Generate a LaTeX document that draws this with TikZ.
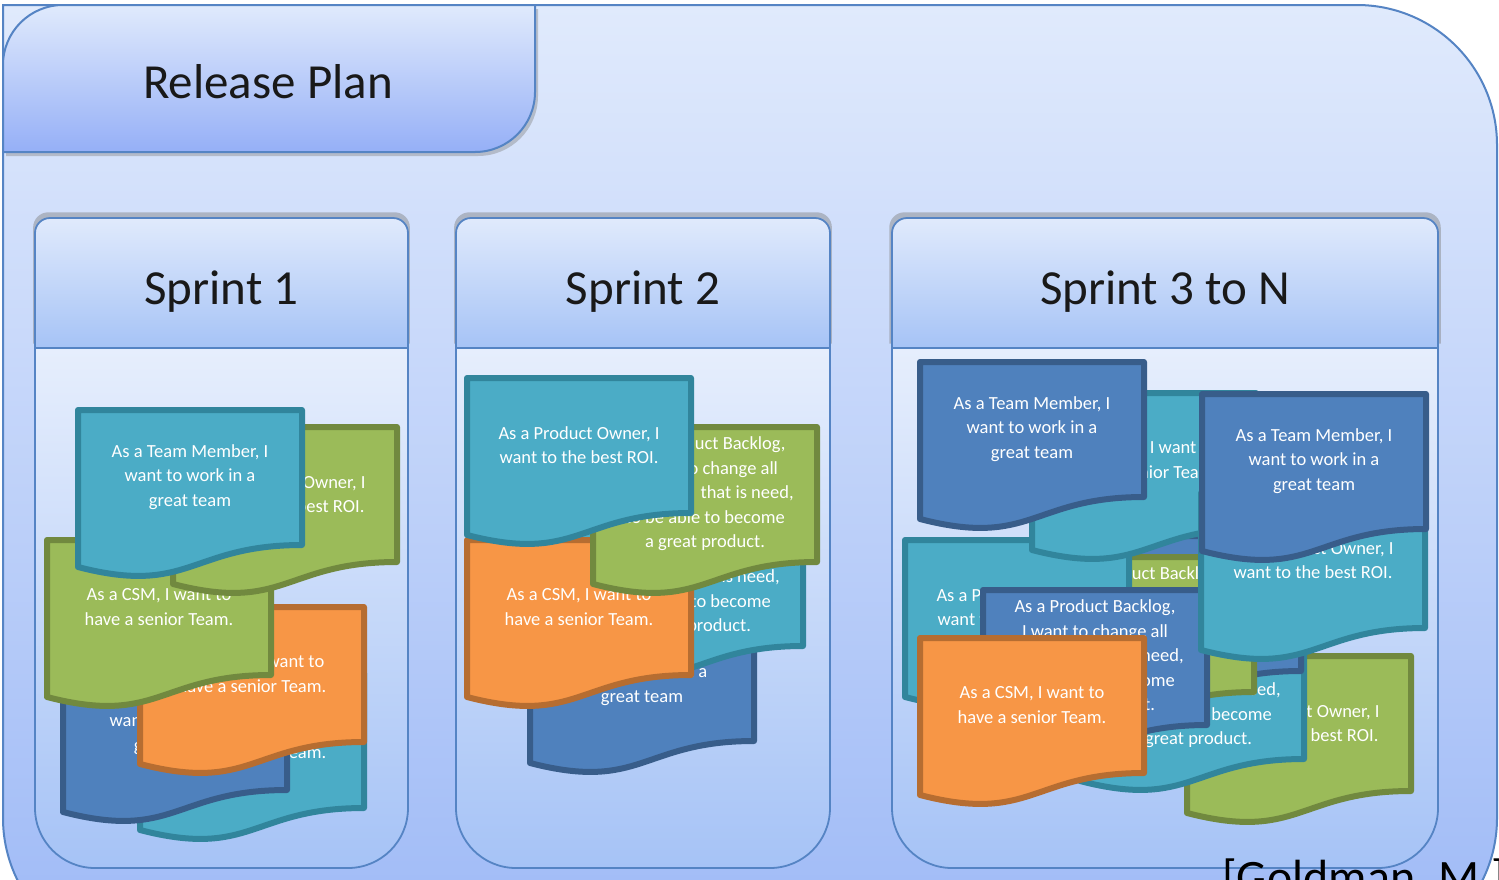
\documentclass[tikz,border=0pt]{standalone}
\usepackage{fontspec}
\setmainfont{Carlito}
\usepackage{tikz}
\usetikzlibrary{shadows}

\definecolor{tealfill}{HTML}{4BACC6}
\definecolor{tealline}{HTML}{31859C}
\definecolor{greenfill}{HTML}{9BBB59}
\definecolor{greenline}{HTML}{71893F}
\definecolor{orangefill}{HTML}{F79646}
\definecolor{orangeline}{HTML}{B66D31}
\definecolor{bluefill}{HTML}{4F81BD}
\definecolor{blueline}{HTML}{385D8A}
\definecolor{panelline}{HTML}{5584C4}
\definecolor{paletop}{HTML}{E0EAFC}
\definecolor{palebot}{HTML}{A6C3F6}

\tikzset{
    card/.style={line width=6pt, line join=round},
    tealcard/.style={card, fill=tealfill, draw=tealline},
    greencard/.style={card, fill=greenfill, draw=greenline},
    orangecard/.style={card, fill=orangefill, draw=orangeline},
    bluecard/.style={card, fill=bluefill, draw=blueline},
    cardtext/.style={text=white, align=center, inner sep=0pt, font=\fontsize{18.5}{24.5}\selectfont},
    panel/.style={draw=panelline, line width=1.8pt, top color=paletop, bottom color=palebot},
    bigtitle/.style={text=black!90, inner sep=0pt, font=\fontsize{49}{52}\selectfont},
}

% one user story card: name, x, y, style, text
\newcommand{\card}[5]{%
    \path[#4] (#2,#3) -- (#2+224,#3) -- (#2+224,#3+135)
        .. controls (#2+112,#3+135) and (#2+112,#3+186) .. (#2,#3+157) -- cycle;
    \node[cardtext] (#1) at (#2+112,#3+67) {#5};
}
\newcommand{\tm}{As a Team Member, I\\want to work in a\\great team}
\newcommand{\csm}{As a CSM, I want to\\have a senior Team.}
\newcommand{\po}{As a Product Owner, I\\want to the best ROI.}
\newcommand{\pb}{As a Product Backlog,\\I want to change all\\\hphantom{everything} that is need,\\to be able to become\\a great product.}

\begin{document}
\begin{tikzpicture}[x=1pt,y=-1pt]
    \useasboundingbox (0,0) rectangle (1499,879);
    \clip (0,0) rectangle (1499,879);
    \fill[white] (0,0) rectangle (1499,879);

    % release plan frame
    \draw[panel, line width=2pt, top color=paletop, bottom color=palebot!95!blue]
        (3,5) -- (1357,5) arc[start angle=270,end angle=360,radius=140]
        -- (1497,818) arc[start angle=0,end angle=90,radius=140]
        -- (143,958) arc[start angle=90,end angle=180,radius=140] -- cycle;
    \draw[panel, line width=2pt, top color=paletop, bottom color=palebot!90!blue,
          drop shadow={opacity=.4, shadow xshift=3pt, shadow yshift=-4pt}]
        (3,152) -- (3,65) arc[start angle=180,end angle=270,radius=60]
        -- (535,5) -- (535,92) arc[start angle=0,end angle=90,radius=60] -- cycle;
    \node[bigtitle] (plan) at (268,82) {Release Plan};

    % sprints
    \foreach \xa/\xb/\name/\lbl in {35/408/sone/Sprint 1, 456/830/stwo/Sprint 2, 892/1438/sthree/Sprint 3 to N} {
        \draw[panel, top color=paletop!80!white, bottom color=palebot]
            (\xa,348) -- (\xa,808) arc[start angle=180,end angle=90,radius=60]
            -- (\xb-60,868) arc[start angle=90,end angle=0,radius=60] -- (\xb,348) -- cycle;
        \draw[panel, drop shadow={opacity=.45, shadow xshift=0pt, shadow yshift=5pt, shadow scale=1.01}]
            (\xa,348) -- (\xa,233) arc[start angle=180,end angle=270,radius=15]
            -- (\xb-15,218) arc[start angle=270,end angle=360,radius=15] -- (\xb,348) -- cycle;
        \node[bigtitle] (\name) at ({(\xa+\xb)/2},292) {\lbl};
    }

    % sprint 1
    \card{sonea}{140}{673}{tealcard}{\csm}
    \card{soneb}{63}{655}{bluecard}{\tm}
    \card{sonec}{140}{607}{orangecard}{\csm}
    \card{soned}{47}{540}{greencard}{\csm}
    \card{sonee}{173}{427}{greencard}{\po}
    \card{sonef}{78}{410}{tealcard}{\tm}

    % sprint 2
    \card{stwoa}{530}{606}{bluecard}{\tm}
    \card{stwob}{579}{511}{tealcard}{\pb}
    \card{stwoc}{467}{540}{orangecard}{\csm}
    \card{stwod}{593}{427}{greencard}{\pb}
    \card{stwoe}{467}{378}{tealcard}{\po}

    % sprint 3 to n
    \card{sthreea}{1050}{420}{orangecard}{\csm}
    \card{sthreeb}{1187}{656}{greencard}{\po}
    \card{sthreec}{1080}{624}{tealcard}{\pb}
    \card{sthreed}{1077}{536}{bluecard}{\tm}
    \card{sthreee}{1030}{557}{greencard}{\pb}
    \card{sthreef}{905}{540}{tealcard}{\po}
    \card{sthreeg}{1032}{393}{tealcard}{\csm}
    \card{sthreeh}{920}{362}{bluecard}{\tm}
    \card{sthreei}{983}{590}{bluecard}{\pb}
    \card{sthreej}{920}{638}{orangecard}{\csm}
    \card{sthreek}{1201}{493}{tealcard}{\po}
    \card{sthreel}{1202}{394}{bluecard}{\tm}

    \node[anchor=base west, inner sep=0pt, font=\fontsize{48}{50}\selectfont] (cite) at (1222,893) {[Goldman, M.]};
\end{tikzpicture}
\end{document}
